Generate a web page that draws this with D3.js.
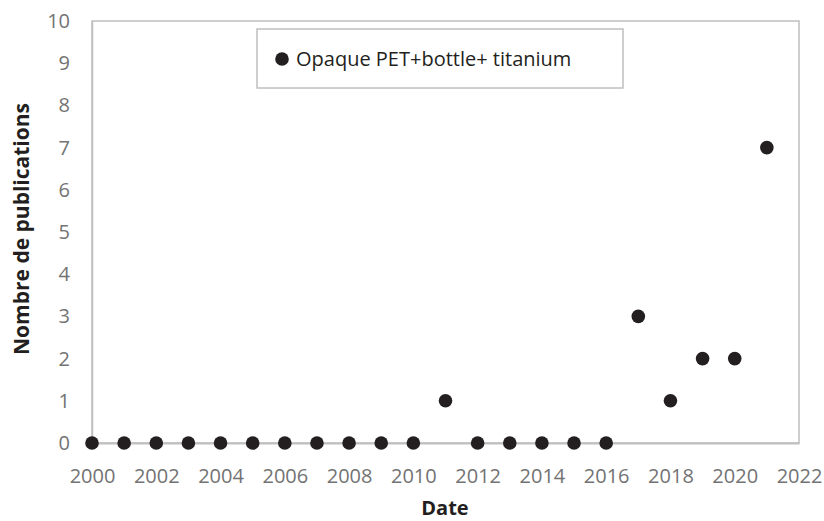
<!DOCTYPE html>
<html>
  <head>
    <meta charset="utf-8">
    <script src="https://cdn.jsdelivr.net/npm/d3@7"></script>
    <style>
      body {margin:0; background:#fff;}
      text {font-family:"Open Sans", sans-serif;}
    </style>
  </head>
  <body>
  <script>
    // values
    var years = [2000,2001,2002,2003,2004,2005,2006,2007,2008,2009,2010,
                 2011,2012,2013,2014,2015,2016,2017,2018,2019,2020,2021];
    var counts = [0,0,0,0,0,0,0,0,0,0,0,
                  1,0,0,0,0,0,3,1,2,2,7];
    var xTicks = [2000,2002,2004,2006,2008,2010,2012,2014,2016,2018,2020,2022];
    var yTicks = [0,1,2,3,4,5,6,7,8,9,10];
    var seriesName = "Opaque PET+bottle+ titanium";

    var width = 824, height = 521;
    // plot area edges (note: "top" is reserved on window, so use pTop etc)
    var pLeft = 92, pRight = 799, pTop = 21, pBottom = 443;

    var svg = d3.select("body").append("svg")
        .attr("width", width)
        .attr("height", height);

    var x = d3.scaleLinear().domain([2000, 2022]).range([pLeft, pRight]);
    var y = d3.scaleLinear().domain([0, 10]).range([pBottom, pTop]);

    // plot frame
    svg.append("rect")
        .attr("x", pLeft).attr("y", pTop)
        .attr("width", pRight - pLeft).attr("height", pBottom - pTop)
        .attr("fill", "none").attr("stroke", "#bfbfbf").attr("stroke-width", 1.5);

    // x axis
    var xAxis = svg.append("g")
        .attr("transform", "translate(0," + pBottom + ")")
        .call(d3.axisBottom(x).tickValues(xTicks).tickFormat(d3.format("d")).tickSize(0));
    xAxis.select(".domain").attr("stroke", "#bfbfbf").attr("stroke-width", 2);
    xAxis.selectAll("text").attr("font-size", 20).attr("fill", "#737373")
        .attr("font-family", "'Open Sans', sans-serif").attr("y", 33).attr("dy", "0.35em");

    // y axis
    var yAxis = svg.append("g")
        .attr("transform", "translate(" + pLeft + ",0)")
        .call(d3.axisLeft(y).tickValues(yTicks).tickSize(0).tickPadding(22));
    yAxis.select(".domain").attr("stroke", "#bfbfbf").attr("stroke-width", 1.5);
    yAxis.selectAll("text").attr("font-size", 20).attr("fill", "#737373")
        .attr("font-family", "'Open Sans', sans-serif");

    // points
    svg.selectAll("circle.pt")
        .data(years)
        .enter()
        .append("circle")
        .attr("class", "pt")
        .attr("cx", function(d) { return x(d); })
        .attr("cy", function(d, i) { return y(counts[i]); })
        .attr("r", 6.8)
        .attr("fill", "#231f20");

    // legend
    var lg = svg.append("g");
    lg.append("rect")
        .attr("x", 257).attr("y", 29).attr("width", 366).attr("height", 59)
        .attr("fill", "#fff").attr("stroke", "#bfbfbf").attr("stroke-width", 1.5);
    lg.append("circle").attr("cx", 282).attr("cy", 59).attr("r", 6.8).attr("fill", "#231f20");
    lg.append("text").attr("x", 296).attr("y", 59).attr("dy", "0.35em")
        .attr("font-size", 20).attr("fill", "#231f20").text(seriesName);

    // axis titles
    svg.append("text")
        .attr("x", 445).attr("y", 515)
        .attr("text-anchor", "middle").attr("font-size", 20).attr("font-weight", "bold")
        .attr("fill", "#231f20").text("Date");
    svg.append("text")
        .attr("transform", "translate(29,229) rotate(-90)")
        .attr("text-anchor", "middle").attr("font-size", 21).attr("font-weight", "bold")
        .attr("fill", "#231f20").text("Nombre de publications");
  </script>
  </body>
</html>
